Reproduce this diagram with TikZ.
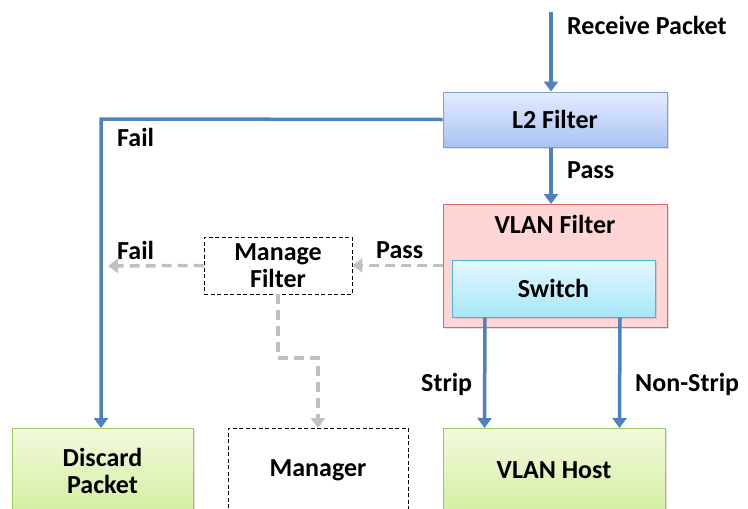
\documentclass[tikz,border=0pt]{standalone}
\usepackage{fontspec}
\setmainfont{Carlito}
\usetikzlibrary{arrows.meta,shadows}
\definecolor{flowblue}{HTML}{4F81BD}
\definecolor{flowgray}{HTML}{C0C0C0}
\definecolor{l2edge}{HTML}{7F9FD8}
\definecolor{l2top}{HTML}{E4ECFF}
\definecolor{l2bot}{HTML}{A8C3F3}
\definecolor{vlanedge}{HTML}{D86A6A}
\definecolor{vlanfill}{HTML}{FFD5D5}
\definecolor{swedge}{HTML}{4CB6CE}
\definecolor{swtop}{HTML}{E2F8FF}
\definecolor{swbot}{HTML}{A8E6F8}
\definecolor{grnedge}{HTML}{9BC860}
\definecolor{grntop}{HTML}{F2FADC}
\definecolor{grnbot}{HTML}{D3EEA2}
\tikzset{
  box/.style={draw, line width=1pt, minimum width=#1, align=center, inner sep=0pt,
    drop shadow={opacity=0.25, shadow xshift=1.5pt, shadow yshift=-1.5pt}},
  l2box/.style={box=224pt, minimum height=55pt, draw=l2edge, top color=l2top, bottom color=l2bot},
  vlanbox/.style={box=224pt, minimum height=123pt, draw=vlanedge, fill=vlanfill},
  switchbox/.style={box=203pt, minimum height=57pt, draw=swedge, top color=swtop, bottom color=swbot},
  greenbox/.style={box=#1, minimum height=84pt, draw=grnedge, top color=grntop, bottom color=grnbot},
  dashbox/.style={draw=black, dash pattern=on 4pt off 2.5pt, line width=0.9pt, fill=white, minimum width=#1, align=center, inner sep=0pt},
  flow/.style={draw=flowblue, line width=3.5pt, -{Triangle[length=10pt,width=14pt]}},
  mgmt/.style={draw=flowgray, line width=3.5pt, dash pattern=on 10pt off 6pt, -{Triangle[length=10pt,width=14pt]}},
  txt/.style={font=\fontsize{26pt}{28pt}\selectfont\bfseries},
  lbl/.style={txt, inner sep=0pt, anchor=west}
}
\begin{document}
\begin{tikzpicture}[x=1pt,y=-1pt]
\useasboundingbox (0,0) rectangle (748,509);
\begin{scope}
\clip (0,0) rectangle (748,509);
% processing stages
\node[l2box, txt] (l2) at (555,119.5) {L2 Filter};
\node[vlanbox, anchor=north] (vlan) at (555,204) {};
\node[txt] (vlantitle) at (555,224) {VLAN Filter};
\node[switchbox, txt] (switch) at (553.5,288.5) {Switch};
\node[dashbox=148pt, minimum height=57pt, txt] (mfilter) at (278,265.5) {Manage\\[-1pt]Filter};
% destinations
\node[greenbox=181pt, txt, anchor=north] (discard) at (102.5,428) {Discard\\[-1pt]Packet};
\node[dashbox=180pt, minimum height=84pt, txt, anchor=north] (manager) at (318,428) {Manager};
\node[greenbox=222pt, txt, anchor=north] (host) at (554,428) {VLAN Host};
\end{scope}
% helper points
\coordinate (rxstart) at (551,12);
\coordinate (failcorner) at (101,119);
\coordinate (mfail) at (108,266);
\coordinate (mbendA) at (278,358);
\coordinate (mbendB) at (318,358);
% main flow
\draw[flow] (rxstart) -- (rxstart |- l2.north);
\draw[flow] (l2.south -| rxstart) -- (vlan.north -| rxstart);
\draw[flow] (l2.west) -- (failcorner) -- (failcorner |- discard.north);
\draw[flow] ([xshift=-68.5pt]switch.south) -- ([xshift=-69.5pt]host.north);
\draw[flow] ([xshift=66.5pt]switch.south) -- ([xshift=65.5pt]host.north);
% management path
\draw[mgmt] (vlan.west |- mfilter.east) -- (mfilter.east);
\draw[mgmt] (mfilter.west) -- (mfail);
\draw[mgmt] (mfilter.south) -- (mbendA) -- (mbendB) -- (mbendB |- manager.north);
% labels
\node[lbl] (lrx) at (567,25) {Receive Packet};
\node[lbl] (lpass) at (567,170) {Pass};
\node[lbl] (lfail) at (117,137) {Fail};
\node[lbl] (lmpass) at (376,250) {Pass};
\node[lbl] (lmfail) at (117,250) {Fail};
\node[lbl] (lstrip) at (421,384) {Strip};
\node[lbl] (lnonstrip) at (635,384) {Non-Strip};
\end{tikzpicture}
\end{document}
